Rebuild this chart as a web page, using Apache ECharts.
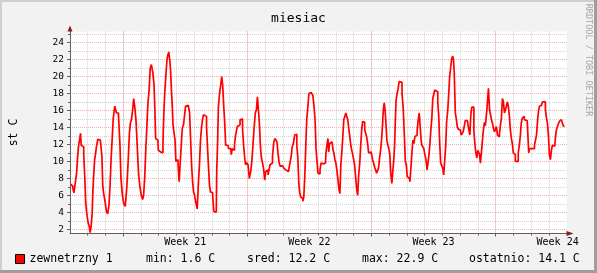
<!DOCTYPE html>
<html><head><meta charset="utf-8">
<script src="https://cdn.jsdelivr.net/npm/echarts@6/dist/echarts.min.js"></script>
<style>html,body{margin:0;padding:0;background:#f2f2f2}#c{width:597px;height:273px}</style>
</head><body><div id="c"></div>
<script>
const chartTitle = 'miesiac';
const yAxisTitle = 'st C';
const seriesName = 'zewnetrzny 1';
const sideText = 'RRDTOOL / TOBI OETIKER';
const weekLabels = ['Week 21', 'Week 22', 'Week 23', 'Week 24'];
const weekLabelDays = [6.5, 13.5, 20.5, 27.5];
const weekStartDays = [3, 10, 17, 24];
const dayGridDays = [1,2,3,4,5,6,7,8,9,10,11,12,13,14,15,16,17,18,19,20,21,22,23,24,25,26,27];
const yMajorTicks = [2,4,6,8,10,12,14,16,18,20,22,24];
const yMinorTicks = [2,3,4,5,6,7,8,9,10,11,12,13,14,15,16,17,18,19,20,21,22,23,24,25];
const statNames = ['min:', 'sred:', 'max:', 'ostatnio:'];
const statValues = [1.6, 12.2, 22.9, 14.1];
const statUnit = 'C';

// time in days from the left edge of the graph
const days = [
0.02,0.15,0.20,0.24,0.35,0.39,0.45,0.50,0.58,0.61,
0.65,0.73,0.82,0.86,0.91,1.00,1.06,1.12,1.15,1.23,
1.27,1.30,1.36,1.42,1.45,1.53,1.60,1.71,1.77,1.83,
1.86,1.94,2.01,2.09,2.16,2.24,2.29,2.35,2.40,2.48,
2.57,2.67,2.80,2.83,2.91,2.98,3.06,3.17,3.24,3.32,
3.38,3.43,3.51,3.56,3.62,3.69,3.75,3.82,3.92,3.97,
4.07,4.12,4.18,4.25,4.31,4.36,4.42,4.50,4.55,4.63,
4.72,4.76,4.81,4.85,4.96,5.00,5.07,5.17,5.22,5.26,
5.32,5.37,5.45,5.49,5.54,5.60,5.65,5.69,5.75,5.78,
5.84,5.90,5.95,5.99,6.06,6.12,6.19,6.25,6.31,6.36,
6.44,6.49,6.55,6.62,6.72,6.77,6.83,6.89,6.94,7.00,
7.05,7.15,7.20,7.26,7.33,7.39,7.44,7.50,7.56,7.61,
7.67,7.73,7.78,7.84,7.89,7.95,8.04,8.08,8.14,8.25,
8.30,8.34,8.40,8.47,8.53,8.58,8.64,8.70,8.75,8.81,
8.90,8.99,9.07,9.12,9.18,9.24,9.31,9.37,
9.50,9.55,9.63,9.70,9.76,9.82,9.87,9.93,10.00,10.08,
10.15,10.23,10.28,10.34,10.41,10.49,10.54,10.60,10.65,10.71,
10.77,10.82,10.90,10.95,11.01,11.07,11.14,11.20,11.25,11.31,
11.38,11.46,11.53,11.59,11.64,11.70,11.76,11.83,11.89,11.94,
12.02,12.09,12.17,12.24,12.32,12.39,12.45,12.50,12.56,12.63,
12.71,12.76,12.82,12.88,12.93,12.99,13.04,13.10,13.16,13.21,
13.27,13.32,13.38,13.44,13.51,13.59,13.66,13.73,13.79,13.85,
13.90,13.96,14.01,14.07,
14.13,14.18,14.29,14.41,14.46,14.52,14.57,14.61,14.67,14.74,
14.82,14.85,14.91,14.97,15.02,15.08,15.13,15.19,15.25,15.30,
15.36,15.41,15.47,15.53,15.58,15.64,15.69,15.75,15.81,15.86,
15.92,15.97,16.03,16.09,16.14,16.20,16.25,16.31,16.37,16.42,
16.48,16.53,16.59,16.65,16.70,16.76,16.81,16.87,16.98,17.04,
17.09,17.15,17.21,17.26,17.32,17.37,17.43,17.49,17.54,17.60,
17.65,17.69,17.75,17.78,17.84,17.90,17.95,18.01,18.06,18.12,
18.18,18.23,18.29,18.33,18.36,18.42,18.47,18.53,18.59,18.64,
18.70,18.75,
18.83,18.88,18.94,18.99,19.05,19.14,19.20,19.26,19.31,19.37,
19.42,19.48,19.55,19.61,19.67,19.72,19.78,19.82,19.87,19.93,
19.98,20.04,20.11,20.17,20.23,20.26,20.32,20.38,20.43,20.49,
20.54,20.60,20.65,20.71,20.77,20.82,20.88,20.93,20.99,21.05,
21.10,21.16,21.21,21.27,21.33,21.38,21.44,21.49,21.55,21.61,
21.64,21.70,21.76,21.81,21.87,21.92,21.98,22.04,22.09,22.15,
22.20,22.26,22.32,22.41,22.47,22.52,22.58,22.63,22.69,22.75,
22.80,22.86,22.91,22.97,23.03,23.08,23.12,23.17,23.23,23.29,
23.34,23.40,23.45,
23.48,23.54,23.57,23.63,23.69,23.74,23.80,23.85,23.91,23.97,
24.02,24.08,24.13,24.19,24.25,24.30,24.36,24.41,24.47,24.53,
24.58,24.64,24.69,24.75,24.81,24.86,24.92,24.97,25.03,25.09,
25.14,25.20,25.25,25.31,25.37,25.42,25.48,25.53,25.59,25.65,
25.72,25.85,25.89,25.94,26.00,26.06,26.11,26.17,26.22,26.28,
26.34,26.39,26.45,26.50,26.56,26.62,26.67,26.73,26.78,26.84,
26.90,26.95,27.01,27.06,27.12,27.18,27.23,27.34,27.40,27.46,
27.51,27.57,27.62,27.68,27.74,27.79,27.85,27.92
];
// temperature, °C
const temps = [
7.3,7.1,6.7,6.3,7.4,8.6,10.2,11.7,11.9,13.3,
11.9,11.7,10.8,7.8,5.1,3.7,2.7,2.3,1.6,2.3,
3.9,6.2,8.2,10.2,10.8,11.7,12.6,12.5,11.9,10.6,
7.2,6.2,5.3,4.1,3.8,4.9,7.4,10.4,12.5,15.1,
16.5,15.7,15.4,12.1,8.2,6.2,5.1,4.7,7.0,10.0,
13.3,14.5,15.0,16.1,17.4,16.4,14.9,12.1,8.4,7.0,
6.0,5.5,6.0,8.2,11.7,14.1,16.7,18.4,21.0,21.4,
20.4,19.0,16.1,12.7,12.5,11.3,11.1,10.9,11.0,12.1,
15.5,18.2,20.2,22.0,22.5,22.9,22.0,20.8,18.4,16.6,
14.3,13.3,12.5,10.0,10.2,9.8,7.6,10.0,12.1,13.9,
14.3,15.5,16.5,16.6,16.8,15.7,12.7,9.4,7.6,6.4,
6.0,5.1,4.4,7.0,9.4,12.5,13.9,14.9,15.5,15.7,
15.3,14.1,11.7,9.4,7.2,6.4,6.3,5.5,4.1,4.0,
9.0,11.9,16.5,18.0,19.0,20.0,19.0,16.5,14.5,11.9,
11.9,11.5,11.5,10.8,11.5,11.3,11.9,13.1,
14.1,14.3,14.9,15.0,13.9,11.9,10.6,9.6,9.85,9.6,
8.0,8.8,10.0,11.7,13.7,15.7,16.1,17.6,16.1,14.5,
11.7,10.4,9.8,9.0,7.8,8.8,9.0,8.4,9.0,9.6,
9.8,10.6,12.3,12.7,12.9,12.3,11.0,9.8,9.4,9.5,
9.3,9.2,9.0,8.8,8.8,9.0,10.0,10.6,11.7,12.1,
13.1,13.2,11.9,10.4,7.4,6.2,5.8,5.6,5.3,5.8,
8.2,11.7,14.9,16.3,18.0,18.1,18.2,17.8,16.5,14.9,
11.5,10.0,8.6,8.5,
9.0,9.8,9.7,9.8,11.0,11.9,12.7,11.1,12.1,12.3,
12.3,11.3,11.0,10.2,9.8,9.0,8.0,6.8,6.2,9.6,
11.1,12.9,14.9,15.3,15.7,15.7,14.9,13.9,12.9,11.9,
11.3,10.8,10.2,9.4,8.0,6.6,6.0,8.4,9.8,11.9,
13.7,14.7,14.6,13.7,13.5,12.9,12.1,11.0,11.1,10.8,
10.2,9.8,9.3,9.0,8.6,8.4,9.2,10.4,11.3,12.5,
14.3,16.1,16.9,16.1,14.7,12.5,11.9,11.5,10.8,8.6,
7.4,8.8,10.2,12.1,14.7,17.2,18.0,18.5,19.4,19.6,
19.3,18.0,
16.3,13.1,10.0,9.6,8.2,8.0,7.6,9.4,11.1,12.5,
12.1,12.9,13.1,13.7,14.9,15.7,15.9,12.5,11.9,11.8,
11.5,10.8,10.2,9.0,9.0,10.8,11.9,13.7,15.1,17.4,
17.6,18.4,18.6,18.2,17.0,15.3,12.1,9.8,9.5,9.2,
8.4,8.5,11.7,14.7,15.9,17.8,20.0,21.0,22.0,22.4,
22.0,20.4,15.7,15.0,14.1,13.8,13.7,13.5,13.1,12.9,
13.5,14.1,14.8,14.8,14.9,13.7,13.1,15.5,16.4,16.4,
13.7,12.1,11.1,10.4,11.3,11.4,10.8,9.8,11.0,12.5,
13.7,14.6,14.2,
14.1,16.1,17.4,18.6,16.1,15.5,14.9,14.5,13.9,13.5,
13.7,14.1,13.1,12.9,13.3,14.3,15.1,17.4,17.0,15.7,
15.7,16.5,17.0,16.5,15.3,13.7,12.7,12.1,11.0,10.8,
10.0,9.9,10.0,11.0,11.9,13.0,14.5,15.1,15.3,14.9,
14.8,14.8,11.0,11.5,11.5,11.3,11.3,11.5,11.9,12.5,
13.1,14.7,15.9,16.5,16.6,16.8,17.0,17.1,17.0,16.1,
15.1,14.5,13.1,10.8,10.2,11.3,11.9,11.8,12.7,13.7,
14.1,14.3,14.7,14.9,15.1,14.8,14.2,14.1
];

if (days.length !== temps.length) console.error('length mismatch', days.length, temps.length);

const FONT = '"DejaVu Sans Mono", monospace';
const axisColor = '#606060';
const minorGrid = '#d2d2d2';
const majorGrid = '#eeb0b0';
const arrowColor = '#801f1f';

const xBase = { type: 'value', min: 0, max: 28, gridIndex: 0, position: 'bottom' };
const yBase = { type: 'value', min: 1.5, max: 25.3, gridIndex: 0, position: 'left' };

const chart = echarts.init(document.getElementById('c'), null, { renderer: 'canvas' });
const statLeft = [146, 247, 362, 469];

const option = {
  backgroundColor: '#f2f2f2',
  animation: false,
  title: {
    text: chartTitle, left: 'center', top: 7,
    textStyle: { fontFamily: FONT, fontSize: 13, fontWeight: 'normal', color: '#000' }
  },
  grid: { left: 66.5, top: 31.5, width: 500, height: 202, show: true, backgroundColor: '#ffffff', borderWidth: 0 },
  legend: {
    data: [seriesName], left: 15, top: 253, padding: 0, icon: 'rect', itemWidth: 9, itemHeight: 9,
    itemStyle: { borderColor: '#000', borderWidth: 1 },
    textStyle: { fontFamily: FONT, fontSize: 11.5, color: '#000' }
  },
  xAxis: [
    Object.assign({}, xBase, {
      axisLine: { show: true, lineStyle: { color: axisColor, width: 1 } },
      axisTick: { show: true, customValues: dayGridDays, length: 2, lineStyle: { color: axisColor } },
      splitLine: { show: true, lineStyle: { color: minorGrid, width: 1, type: [1, 1] } },
      axisLabel: { show: false }
    }),
    Object.assign({}, xBase, {
      axisLine: { show: false },
      axisTick: { show: true, customValues: weekStartDays, length: 3, lineStyle: { color: axisColor } },
      splitLine: { show: true, lineStyle: { color: majorGrid, width: 1, type: [1, 1] } },
      axisLabel: {
        show: true, customValues: weekLabelDays, margin: 4,
        fontFamily: FONT, fontSize: 10, color: '#000',
        formatter: function (v) {
          let best = 0;
          weekLabelDays.forEach(function (d, i) { if (Math.abs(d - v) < Math.abs(weekLabelDays[best] - v)) best = i; });
          return weekLabels[best];
        }
      }
    }),
    Object.assign({}, xBase, {
      axisLine: { show: true, symbol: ['none', 'triangle'], symbolSize: [5, 7], symbolOffset: [0, 3.5], lineStyle: { color: arrowColor, width: 0 } },
      axisTick: { show: false }, splitLine: { show: false }, axisLabel: { show: false }
    })
  ],
  yAxis: [
    Object.assign({}, yBase, {
      name: yAxisTitle, nameLocation: 'middle', nameGap: 50, nameRotate: 90,
      nameTextStyle: { fontFamily: FONT, fontSize: 11.5, color: '#000' },
      axisLine: { show: true, lineStyle: { color: axisColor, width: 1 } },
      axisTick: { show: true, customValues: yMinorTicks, length: 2, lineStyle: { color: axisColor } },
      splitLine: { show: true, lineStyle: { color: minorGrid, width: 1, type: [1, 1] } },
      axisLabel: { show: false }
    }),
    Object.assign({}, yBase, {
      axisLine: { show: false },
      axisTick: { show: true, customValues: yMajorTicks, length: 3, lineStyle: { color: axisColor } },
      splitLine: { show: true, lineStyle: { color: majorGrid, width: 1, type: [1, 1] } },
      axisLabel: { show: true, customValues: yMajorTicks, margin: 6, fontFamily: FONT, fontSize: 9.5, color: '#000' }
    }),
    Object.assign({}, yBase, {
      axisLine: { show: true, symbol: ['none', 'triangle'], symbolSize: [5, 6], symbolOffset: [0, 3], lineStyle: { color: arrowColor, width: 0 } },
      axisTick: { show: false }, splitLine: { show: false }, axisLabel: { show: false }
    })
  ],
  series: [{
    type: 'line', name: seriesName, xAxisIndex: 0, yAxisIndex: 0,
    data: days.map(function (d, i) { return [d, temps[i]]; }),
    step: 'middle', showSymbol: false, symbol: 'none',
    lineStyle: { color: '#ff0000', width: 1.7 }, itemStyle: { color: '#ff0000' }, z: 5
  }],
  graphic: [
    { type: 'rect', shape: { x: 0, y: 0, width: 597, height: 2 }, style: { fill: '#cfcfcf' }, silent: true },
    { type: 'rect', shape: { x: 0, y: 0, width: 2, height: 273 }, style: { fill: '#cfcfcf' }, silent: true },
    { type: 'rect', shape: { x: 0, y: 270, width: 597, height: 3 }, style: { fill: '#9e9e9e' }, silent: true },
    { type: 'rect', shape: { x: 594, y: 0, width: 3, height: 273 }, style: { fill: '#9e9e9e' }, silent: true },
    { type: 'text', x: 588.5, y: 60, rotation: -Math.PI / 2, silent: true,
      style: { text: sideText, font: '8.5px "DejaVu Sans Mono"', fill: '#a8a8a8', textAlign: 'center', textVerticalAlign: 'middle' } }
  ].concat(statNames.map(function (n, i) {
    return { type: 'text', x: statLeft[i], y: 259, silent: true,
      style: { text: n + ' ' + statValues[i].toFixed(1) + ' ' + statUnit, font: '11.5px "DejaVu Sans Mono"', fill: '#000', textAlign: 'left', textVerticalAlign: 'middle' } };
  }))
};
chart.setOption(option);
</script>
</body></html>
